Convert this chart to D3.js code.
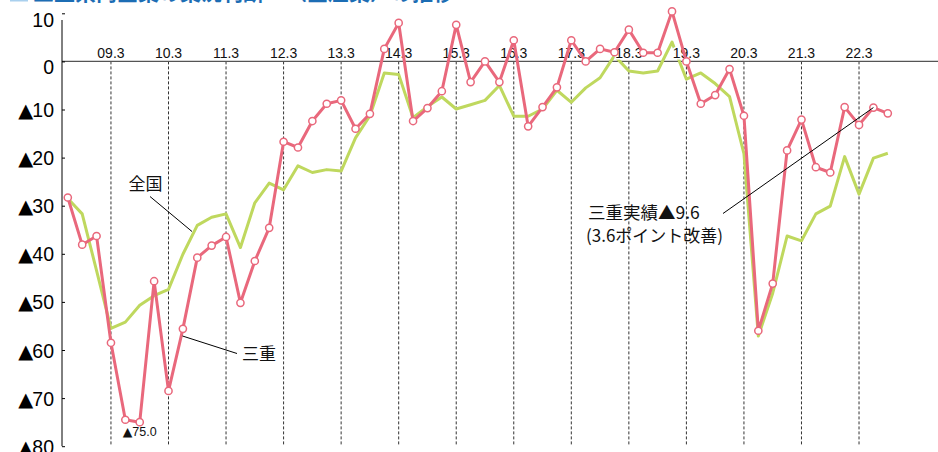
<!DOCTYPE html>
<html>
<head>
<meta charset="utf-8">
<script src="https://cdn.jsdelivr.net/npm/d3@7"></script>
<style>
	body { margin: 0; background: #fff; }
	svg { display: block; }
	text { font-family: "Liberation Sans", Arial, "Noto Sans CJK JP", sans-serif; }
	.jp { font-family: "Noto Sans CJK JP", sans-serif; }
	.tri { font-family: "DejaVu Sans", sans-serif; }
</style>
</head>
<body>
<div id="chart"></div>
<script>
// quarters, 2008.6 .. 2022.9
var quarters = [
	'08.6','08.9','08.12',
	'09.3','09.6','09.9','09.12','10.3','10.6','10.9','10.12',
	'11.3','11.6','11.9','11.12','12.3','12.6','12.9','12.12',
	'13.3','13.6','13.9','13.12','14.3','14.6','14.9','14.12',
	'15.3','15.6','15.9','15.12','16.3','16.6','16.9','16.12',
	'17.3','17.6','17.9','17.12','18.3','18.6','18.9','18.12',
	'19.3','19.6','19.9','19.12','20.3','20.6','20.9','20.12',
	'21.3','21.6','21.9','21.12','22.3','22.6','22.9'
];

// 三重
var mie = [
	-28.3, -38.1, -36.3,
	-58.5, -74.5, -75.0, -45.7, -68.5, -55.6, -40.8, -38.3,
	-36.5, -50.2, -41.5, -34.6, -16.7, -17.9, -12.4, -8.8,
	-8.1, -14.0, -10.9, 2.6, 8.0, -12.4, -9.7, -6.2,
	7.6, -4.3, 0.0, -4.3, 4.4, -13.5, -9.5, -5.4,
	4.4, 0.0, 2.6, 1.9, 6.6, 1.8, 1.8, 10.4,
	0.0, -8.8, -7.0, -1.6, -11.3, -56.0, -46.2, -18.5,
	-12.1, -22.0, -23.1, -9.5, -13.2, -9.6, -10.8
];

// 全国
var zenkoku = [
	-28.5, -31.7, -43.5,
	-55.5, -54.2, -50.7, -48.7, -47.4, -40.1, -34.1, -32.4,
	-31.7, -38.7, -29.4, -25.3, -26.7, -21.7, -23.1, -22.5,
	-22.8, -15.9, -11.3, -2.4, -2.7, -11.7, -9.4, -7.4,
	-9.9, -9.0, -8.1, -5.0, -11.4, -11.4, -9.9, -6.0,
	-8.5, -5.5, -3.4, 1.2, -2.0, -2.4, -2.0, 4.0,
	-3.7, -2.4, -4.6, -7.3, -19.2, -57.1, -48.2, -36.3,
	-37.3, -31.7, -30.1, -19.8, -27.6, -20.1, -19.1
];

var yearTicks = ['09.3','10.3','11.3','12.3','13.3','14.3','15.3','16.3','17.3','18.3','19.3','20.3','21.3','22.3'];
var yTicks = [10, 0, -10, -20, -30, -40, -50, -60, -70, -80];

var params = {
	width: 938,
	height: 452,
	redColor: '#e9687c',
	greenColor: '#bfd85e'
};

var svg = d3.select('#chart')
	.append('svg')
		.attr('width', params.width)
		.attr('height', params.height);

var x = d3.scalePoint()
	.domain(quarters)
	.range([67.8, 887.8]);

var y = d3.scaleLinear()
	.domain([-80, 10])
	.range([446.2, 13.3]);

// title (cut off at the top)
svg.append('rect')
	.attr('x', 10).attr('y', -20)
	.attr('width', 18).attr('height', 21.5)
	.attr('fill', '#a9d0ee');
svg.append('text')
	.attr('class', 'jp')
	.attr('x', 33).attr('y', -0.5)
	.style('font-size', '21px')
	.style('font-weight', 'bold')
	.attr('fill', '#1c6db4')
	.text('三重県内企業の業況判断DI（全産業）の推移');

// dashed year lines
svg.selectAll('.grid')
	.data(yearTicks).enter()
	.append('line')
		.attr('class', 'grid')
		.attr('x1', function(d){ return x(d); })
		.attr('x2', function(d){ return x(d); })
		.attr('y1', y(0))
		.attr('y2', y(-80))
		.attr('stroke', '#333')
		.attr('stroke-width', 1)
		.attr('stroke-dasharray', '3,2');

// zero line
svg.append('line')
	.attr('x1', 62).attr('x2', params.width)
	.attr('y1', y(0)).attr('y2', y(0))
	.attr('stroke', '#555')
	.attr('stroke-width', 1.3);

// y axis
var yAxis = svg.append('g')
	.attr('transform', 'translate(62,0)')
	.call(d3.axisLeft(y)
		.tickValues(yTicks)
		.tickSizeInner(-3)
		.tickSizeOuter(0)
		.tickPadding(8)
		.tickFormat(function(d){ return d < 0 ? -d : d; }));
yAxis.select('.domain').remove();
yAxis.selectAll('.tick line').attr('stroke', '#000');
yAxis.selectAll('.tick text')
	.style('font-size', '19.5px')
	.attr('fill', '#000')
	.attr('dy', function(d){ return d == 10 ? '0.68em' : (d == 0 ? '0.62em' : '0.36em'); });
// negative values get a black triangle in front
yAxis.selectAll('.tick text')
	.filter(function(d){ return d < 0; })
	.each(function(d){
		var t = d3.select(this).text('');
		t.append('tspan').attr('class', 'tri').text('▲');
		t.append('tspan').attr('dx', '-1').text(-d);
	});
yAxis.append('line')
	.attr('x1', 0).attr('x2', 0)
	.attr('y1', 20).attr('y2', y(-80))
	.attr('stroke', '#000');

// 全国 line
var line = d3.line()
	.x(function(d, i){ return x(quarters[i]); })
	.y(function(d){ return y(d); });

svg.append('path')
	.datum(zenkoku)
	.attr('d', line)
	.attr('fill', 'none')
	.attr('stroke', params.greenColor)
	.attr('stroke-width', 3)
	.attr('stroke-linejoin', 'round');

// year labels (white halo hides the green line behind them)
svg.selectAll('.yearLabel')
	.data(yearTicks).enter()
	.append('text')
		.attr('class', 'yearLabel')
		.attr('x', function(d){ return x(d); })
		.attr('y', 58)
		.attr('text-anchor', 'middle')
		.style('font-size', '14px')
		.attr('stroke', '#fff')
		.attr('stroke-width', 3)
		.attr('paint-order', 'stroke')
		.attr('fill', '#111')
		.text(function(d){ return d; });

// 三重 line + markers
svg.append('path')
	.datum(mie)
	.attr('d', line)
	.attr('fill', 'none')
	.attr('stroke', params.redColor)
	.attr('stroke-width', 3)
	.attr('stroke-linejoin', 'round');

svg.selectAll('.dot')
	.data(mie).enter()
	.append('circle')
		.attr('class', 'dot')
		.attr('cx', function(d, i){ return x(quarters[i]); })
		.attr('cy', function(d){ return y(d); })
		.attr('r', 3.6)
		.attr('fill', '#fff')
		.attr('stroke', params.redColor)
		.attr('stroke-width', 1.5);

// minimum label (09.9)
var minLabel = svg.append('text')
	.attr('x', x('09.9'))
	.attr('y', 436)
	.attr('text-anchor', 'middle')
	.style('font-size', '12.5px')
	.attr('fill', '#111');
minLabel.append('tspan').attr('class', 'tri').text('▲');
minLabel.append('tspan').text('75.0');

// series labels with leader lines
svg.append('text')
	.attr('class', 'jp')
	.attr('x', 145.5).attr('y', 190)
	.attr('text-anchor', 'middle')
	.style('font-size', '17px')
	.attr('fill', '#111')
	.text('全国');
svg.append('line')
	.attr('x1', 150).attr('y1', 196.5)
	.attr('x2', 192).attr('y2', 231.5)
	.attr('stroke', '#000').attr('stroke-width', 1);

svg.append('text')
	.attr('class', 'jp')
	.attr('x', 259).attr('y', 360)
	.attr('text-anchor', 'middle')
	.style('font-size', '17px')
	.attr('fill', '#111')
	.text('三重');
svg.append('line')
	.attr('x1', 182.5).attr('y1', 336)
	.attr('x2', 237).attr('y2', 353.5)
	.attr('stroke', '#000').attr('stroke-width', 1);

// latest value note
svg.append('text')
	.attr('class', 'jp')
	.attr('x', 588).attr('y', 219)
	.style('font-size', '17.5px')
	.attr('fill', '#111')
	.text('三重実績▲9.6');
svg.append('text')
	.attr('class', 'jp')
	.attr('x', 586).attr('y', 242)
	.style('font-size', '17px')
	.attr('fill', '#111')
	.text('(3.6ポイント改善)');
svg.append('line')
	.attr('x1', 723).attr('y1', 213.5)
	.attr('x2', x('22.6')).attr('y2', y(mie[56]))
	.attr('stroke', '#000').attr('stroke-width', 1);
</script>
</body>
</html>
